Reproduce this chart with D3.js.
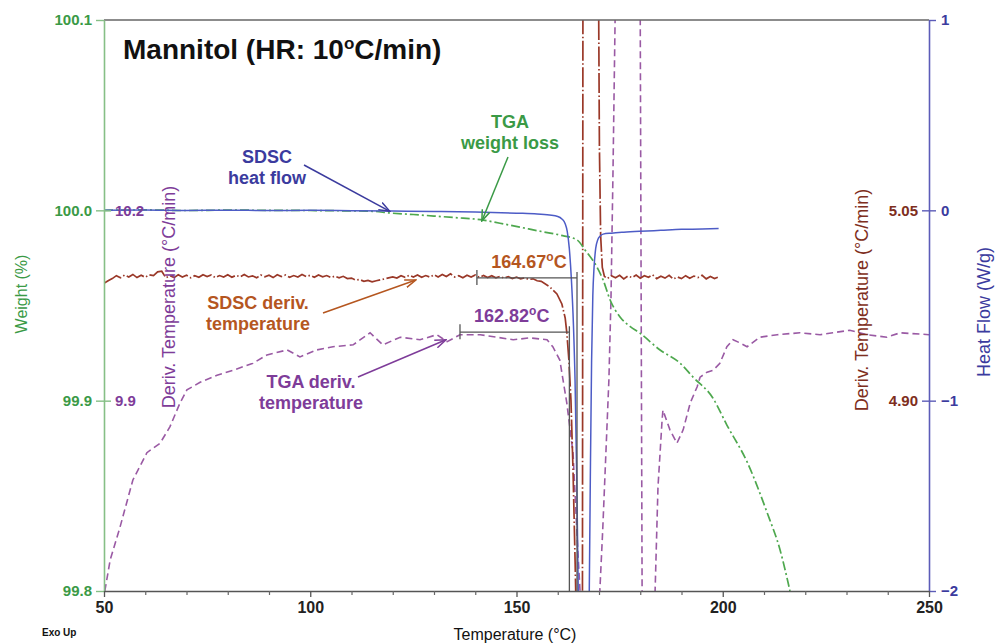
<!DOCTYPE html>
<html><head><meta charset="utf-8">
<script src="https://cdn.jsdelivr.net/npm/d3@7"></script>
<style>
body{margin:0;background:#fff}
svg{display:block}
text{font-family:"Liberation Sans",Arial,Helvetica,sans-serif}
</style>
</head><body>
<svg id="chart" width="997" height="644"></svg>
<script>
// ---------- DATA ----------
// SDSC heat flow (W/g) vs temperature (°C)
const hfT = [50,60,70,80,90,100,110,120,130,140,150,155,158,160,161,161.8,162.3,162.8,163.3,163.8,164.2,164.6,165.0,165.6,166.2,166.8,167.3,167.6,167.9,168.2,168.5,168.8,169.2,169.7,170.3,171,173,176,180,185,190,195,199];
const hfV = [0.000,0.002,-0.001,0.001,-0.001,0.000,-0.002,-0.004,-0.006,-0.009,-0.015,-0.019,-0.025,-0.032,-0.045,-0.07,-0.11,-0.20,-0.36,-0.60,-0.90,-1.40,-2.05,-2.8,-3.2,-3.1,-2.6,-2.1,-1.4,-0.8,-0.45,-0.30,-0.20,-0.155,-0.135,-0.125,-0.12,-0.115,-0.11,-0.105,-0.10,-0.098,-0.095];

// TGA weight (%)
const wtT = [50,60,70,80,90,100,110,115,119.3,125,130,135,141.9,146,150.8,155,160.5,164.7,166.6,169.5,171.0,172.7,175.1,177.5,179.9,184.8,189.6,192.8,197.6,201.0,205.9,210.7,213.9,216.3];
const wtV = [100.000,100.0002,99.9999,100.0001,100.000,99.9999,99.9997,99.9995,99.9986,99.9978,99.9970,99.9962,99.9949,99.9932,99.9912,99.9893,99.9870,99.9844,99.9792,99.9702,99.9634,99.9529,99.9440,99.9390,99.9355,99.9266,99.9198,99.9124,99.9014,99.8872,99.8678,99.8415,99.8215,99.8000];

// SDSC derivative temperature (°C/min)
const sdT = [50,51,52,53,54,55,56,57,58,59,60,61,62,63,64,65,66,67,68,69,70,71,72,73,74,75,76,77,78,79,80,81,82,83,84,85,86,87,88,89,90,91,92,93,94,95,96,97,98,99,100,
  101,102,103,104,105,106,107,108,109,110,111,112,113,114,115,116,117,118,119,120,121,122,123,124,125,126,127,128,129,130,131,132,133,134,135,136,137,138,139,140,
  141,142,143,144,145,146,147,148,149,150,151,152,153,154,155,156,
  158.1,159.8,161.0,161.8,162.2,162.7,163.2,163.7,164.2,164.4,165.0,165.9,166.2,168.0,169.6,169.9,170.1,170.4,170.8,171.3,
  172,173,174,175,176,177,178,179,180,181,182,183,184,185,186,187,188,189,190,191,192,193,194,195,196,197,198,198.8];
const sdV = [4.9925,4.9945,4.9962,4.9985,4.9968,4.9990,4.9975,4.9995,4.9970,4.9988,4.9972,4.9992,4.9985,5.0015,5.0020,4.9968,4.9985,4.9970,4.9992,4.9975,4.9988,4.9968,4.9985,4.9972,4.9993,4.9978,4.9990,4.9970,4.9986,4.9974,4.9992,4.9972,4.9988,4.9976,4.9995,4.9975,4.9984,4.9968,4.9990,4.9976,4.9988,4.9970,4.9992,4.9978,4.9990,4.9972,4.9986,4.9975,4.9994,4.9978,4.9988,
  4.9972,4.9990,4.9976,4.9986,4.9970,4.9982,4.9968,4.9980,4.9962,4.9966,4.9950,4.9955,4.9940,4.9948,4.9936,4.9945,4.9952,4.9960,4.9968,4.9975,4.9966,4.9985,4.9972,4.9988,4.9975,4.9990,4.9972,4.9986,4.9974,4.9992,4.9975,4.9995,4.9978,5.0000,4.9975,4.9985,4.9968,4.9988,4.9974,4.9990,
  4.9972,4.9986,4.9970,4.9984,4.9968,4.9980,4.9965,4.9978,4.9962,4.9974,4.9960,4.9968,4.9955,4.9960,4.9945,4.9940,
  4.9896,4.9841,4.9762,4.9652,4.9534,4.9321,4.9006,4.8454,4.7745,4.743,4.60,4.40,5.60,5.80,5.60,5.22,5.10,5.03,5.005,4.998,
  4.9962,4.9985,4.9968,4.9988,4.9960,4.9982,4.9970,4.9990,4.9965,4.9985,4.9972,4.9992,4.9962,4.9980,4.9966,4.9988,4.9958,4.9975,4.9962,4.9985,4.9965,4.9982,4.9970,4.9988,4.9960,4.9978,4.9962,4.9972];

// TGA derivative temperature (°C/min)
const tdT = [50.2,51.5,53.9,57.0,60.4,63.6,66.0,68.4,70.1,73.3,77.4,81.3,86.1,89.5,94.4,97.5,101.6,105.5,110.4,114.5,117.6,121.8,126.6,130.7,133.2,136.3,141.2,145.3,149.2,153.3,157.4,158.8,160.5,162.2,163.7,164.9,165.4,167,169,
  170.2,170.9,171.7,172.4,172.9,173.4,173.9,174.5,177,179.8,180.0,180.45,181,182.5,
  183.6,184.3,185.3,185.5,187.2,188.9,190.4,192.1,193.8,194.5,196.2,197.7,199.3,201.0,202.5,204.2,205.9,209.0,213.2,218.7,223.6,226.7,230.8,235.0,239.8,243.0,250.0];
const tdV = [9.600,9.649,9.701,9.775,9.818,9.833,9.859,9.896,9.917,9.929,9.940,9.948,9.959,9.972,9.980,9.969,9.980,9.985,9.988,10.007,9.988,10.000,9.996,10.004,9.993,10.004,10.004,10.000,9.996,9.999,9.996,9.985,9.964,9.896,9.818,9.660,9.600,9.35,9.30,
  9.600,9.696,9.822,9.933,10.059,10.264,10.500,10.90,11.00,10.90,10.50,9.60,9.30,9.30,
  9.600,9.764,9.870,9.885,9.854,9.833,9.854,9.896,9.922,9.937,9.945,9.948,9.959,9.985,9.996,9.991,9.985,10.000,10.004,10.007,10.004,10.007,10.011,10.004,10.000,10.007,10.004];

// Onset analyses
const onsetT = [164.67, 162.82];
const onsetFromT = [140.4, 136.3];
const onsetLevelSd = 4.9967;   // on SDSC deriv. scale
const onsetLevelTd = 10.008;   // on TGA deriv. scale

// Ticks
const xTicks = [50,100,150,200,250];
const xMinor = [60,70,80,90,110,120,130,140,160,170,180,190,210,220,230,240];
const wtTicks = [99.8,99.9,100.0,100.1];
const hfTicks = [-2,-1,0,1];
const tdTicks = [9.9,10.2];
const sdTicks = [4.90,5.05];

// ---------- LAYOUT ----------
const L=104,R=929,T=20,B=591;
const C = {
  green:"#4ea84e", greenTxt:"#3a9a46", greenAxis:"#86bf86",
  blue:"#4d5cc6", blueTxt:"#3b3b9e", blueAxis:"#5c5cb8",
  brown:"#9a3828", brownTxt:"#7e2e20", orange:"#b5561f",
  purple:"#9a5aa4", purpleTxt:"#7e3c99", grey:"#555"
};
const svg = d3.select("#chart");
const x = d3.scaleLinear().domain([50,250]).range([L,R]);
const yW = d3.scaleLinear().domain([99.8,100.1]).range([B,T]);
const yHF = d3.scaleLinear().domain([-2,1]).range([B,T]);
const yTd = d3.scaleLinear().domain([9.6,10.5]).range([B,T]);
const ySd = d3.scaleLinear().domain([4.75,5.20]).range([B,T]);

svg.append("defs").append("clipPath").attr("id","plot")
  .append("rect").attr("x",L).attr("y",T).attr("width",R-L).attr("height",B-T);

// markers
const defs = svg.select("defs");
[["blue",C.blueTxt],["green",C.greenTxt],["orange",C.orange],["purple",C.purpleTxt]].forEach(([k,c])=>{
  defs.append("marker").attr("id","ar-"+k).attr("viewBox","0 0 12 10").attr("refX",11).attr("refY",5)
    .attr("markerWidth",12).attr("markerHeight",10).attr("markerUnits","userSpaceOnUse").attr("orient","auto")
    .append("path").attr("d","M0,1 L11,5 L0,9").attr("fill","none").attr("stroke",c).attr("stroke-width",1.5);
});

const zip = (a,b)=>a.map((v,i)=>[v,b[i]]);
const g = svg.append("g").attr("clip-path","url(#plot)");

// TGA deriv temperature (purple dashed)
g.append("path").datum(zip(tdT,tdV))
  .attr("d",d3.line().x(d=>x(d[0])).y(d=>yTd(d[1])))
  .attr("fill","none").attr("stroke",C.purple).attr("stroke-width",1.6).attr("stroke-dasharray","7,4");
// SDSC deriv temperature (brown)
g.append("path").datum(zip(sdT,sdV))
  .attr("d",d3.line().x(d=>x(d[0])).y(d=>ySd(d[1])))
  .attr("fill","none").attr("stroke",C.brown).attr("stroke-width",1.7).attr("stroke-dasharray","20,2.5,1.5,2.5");
// TGA weight (green dash-dot)
g.append("path").datum(zip(wtT,wtV))
  .attr("d",d3.line().curve(d3.curveMonotoneX).x(d=>x(d[0])).y(d=>yW(d[1])))
  .attr("fill","none").attr("stroke",C.green).attr("stroke-width",1.7).attr("stroke-dasharray","9,3,2,3");
// Heat flow (blue)
g.append("path").datum(zip(hfT,hfV))
  .attr("d",d3.line().curve(d3.curveMonotoneX).x(d=>x(d[0])).y(d=>yHF(d[1])))
  .attr("fill","none").attr("stroke",C.blue).attr("stroke-width",1.5);

// onset markers
const onsetY = [ySd(onsetLevelSd), yTd(onsetLevelTd)];
const onsetCol = [C.orange, C.purpleTxt];
const onsetDx = [2, -3];
onsetT.forEach((t,i)=>{
  const y0 = onsetY[i];
  g.append("line").attr("x1",x(onsetFromT[i])).attr("x2",x(t)).attr("y1",y0).attr("y2",y0)
    .attr("stroke",C.grey).attr("stroke-width",1.3);
  g.append("line").attr("x1",x(onsetFromT[i])).attr("x2",x(onsetFromT[i])).attr("y1",y0-8).attr("y2",y0+7)
    .attr("stroke",C.grey).attr("stroke-width",1.3);
  g.append("line").attr("x1",x(t)).attr("x2",x(t)).attr("y1",y0-6).attr("y2",B)
    .attr("stroke",C.grey).attr("stroke-width",1.3);
  const tx = svg.append("text").attr("x",(x(onsetFromT[i])+x(t))/2+onsetDx[i]).attr("y",y0-10)
    .attr("text-anchor","middle").attr("font-size",18).attr("font-weight","bold").attr("fill",onsetCol[i]);
  tx.append("tspan").text(d3.format(".2f")(t));
  tx.append("tspan").attr("font-size",12).attr("dy",-7).text("o");
  tx.append("tspan").attr("dy",7).text("C");
});

// ---------- AXES ----------
function styleAxis(sel, color, size, weight){
  sel.selectAll("text").attr("fill",color).attr("font-size",size).attr("font-weight",weight||"bold")
    .attr("font-family","'Liberation Sans',Arial,sans-serif");
}
// top frame
svg.append("line").attr("x1",L).attr("x2",R).attr("y1",T).attr("y2",T).attr("stroke","#666").attr("stroke-width",1.6);

// left weight axis
const aW = svg.append("g").attr("transform",`translate(${L},0)`)
  .call(d3.axisLeft(yW).tickValues(wtTicks).tickFormat(d3.format(".1f")).tickSize(8).tickSizeOuter(0).tickPadding(4));
aW.select(".domain").attr("stroke",C.greenAxis).attr("stroke-width",1.6);
aW.selectAll(".tick line").attr("stroke",C.greenAxis).attr("stroke-width",1.4);
styleAxis(aW, C.greenTxt, 15);

// inner TGA deriv labels
const aTd = svg.append("g").attr("transform",`translate(${L},0)`)
  .call(d3.axisRight(yTd).tickValues(tdTicks).tickFormat(d3.format(".1f")).tickSize(7).tickSizeOuter(0).tickPadding(4));
aTd.select(".domain").remove();
aTd.selectAll(".tick line").attr("stroke",C.greenAxis).attr("stroke-width",1.4);
styleAxis(aTd, C.purpleTxt, 15);

// right heat flow axis
const aHF = svg.append("g").attr("transform",`translate(${R},0)`)
  .call(d3.axisRight(yHF).tickValues(hfTicks).tickFormat(d3.format("d")).tickSize(7).tickSizeOuter(0).tickPadding(5));
aHF.select(".domain").attr("stroke",C.blueAxis).attr("stroke-width",1.6);
aHF.selectAll(".tick line").attr("stroke",C.blueAxis).attr("stroke-width",1.4);
styleAxis(aHF, C.blueTxt, 15);

// inner SDSC deriv labels
const aSd = svg.append("g").attr("transform",`translate(${R},0)`)
  .call(d3.axisLeft(ySd).tickValues(sdTicks).tickFormat(d3.format(".2f")).tickSize(7).tickSizeOuter(0).tickPadding(4));
aSd.select(".domain").remove();
aSd.selectAll(".tick line").attr("stroke",C.blueAxis).attr("stroke-width",1.4);
styleAxis(aSd, C.brownTxt, 15);

// bottom axis
const aX = svg.append("g").attr("transform",`translate(0,${B})`)
  .call(d3.axisBottom(x).tickValues(xTicks).tickFormat(d3.format("d")).tickSize(6).tickSizeOuter(0).tickPadding(5));
aX.select(".domain").attr("stroke","#555").attr("stroke-width",1.6);
aX.selectAll(".tick line").attr("stroke","#555").attr("stroke-width",1.3);
styleAxis(aX, "#222", 16);
const aXm = svg.append("g").attr("transform",`translate(0,${B})`)
  .call(d3.axisBottom(x).tickValues(xMinor).tickFormat("").tickSize(4).tickSizeOuter(0));
aXm.select(".domain").remove();
aXm.selectAll(".tick line").attr("stroke","#666").attr("stroke-width",1.2);

// axis titles
function vTitle(txt, xx, yy, color, size){
  svg.append("text").attr("transform",`translate(${xx},${yy}) rotate(-90)`).attr("text-anchor","middle")
    .attr("font-size",size).attr("fill",color).text(txt);
}
vTitle("Weight (%)", 27, 294, C.greenTxt, 16);
vTitle("Deriv. Temperature (°C/min)", 175, 297, C.purpleTxt, 18);
vTitle("Deriv. Temperature (°C/min)", 868, 300, C.brownTxt, 18);
vTitle("Heat Flow (W/g)", 990, 312, C.blueTxt, 18);
svg.append("text").attr("x",515).attr("y",640).attr("text-anchor","middle").attr("font-size",16).attr("fill","#111").text("Temperature (°C)");
svg.append("text").attr("x",42).attr("y",636).attr("font-size",10).attr("font-weight","bold").attr("fill","#111").text("Exo Up");

// chart title
const tt = svg.append("text").attr("x",123).attr("y",59).attr("font-size",28).attr("font-weight","bold").attr("fill","#111");
tt.append("tspan").text("Mannitol (HR: 10");
tt.append("tspan").attr("font-size",17).attr("dy",-10).text("o");
tt.append("tspan").attr("dy",10).text("C/min)");

// ---------- ANNOTATIONS ----------
function label(lines, cx, y0, color){
  lines.forEach((s,i)=>svg.append("text").attr("x",cx).attr("y",y0+i*21).attr("text-anchor","middle")
    .attr("font-size",18).attr("font-weight","bold").attr("fill",color).text(s));
}
function arrow(x1,y1,x2,y2,color,key){
  svg.append("line").attr("x1",x1).attr("y1",y1).attr("x2",x2).attr("y2",y2)
    .attr("stroke",color).attr("stroke-width",1.5).attr("marker-end",`url(#ar-${key})`);
}
label(["SDSC","heat flow"], 267, 163, C.blueTxt);
arrow(304,165, x(119.3), yHF(0)+1, C.blueTxt, "blue");
label(["TGA","weight loss"], 510, 128, C.greenTxt);
arrow(508,157, x(141.6), yW(99.9949)+1, C.greenTxt, "green");
label(["SDSC deriv.","temperature"], 258, 309, C.orange);
arrow(323,313, x(125.6), ySd(4.9951), C.orange, "orange");
label(["TGA deriv.","temperature"], 311, 388, C.purpleTxt);
arrow(358,377, x(132.9), yTd(9.996), C.purpleTxt, "purple");
</script>
</body></html>
